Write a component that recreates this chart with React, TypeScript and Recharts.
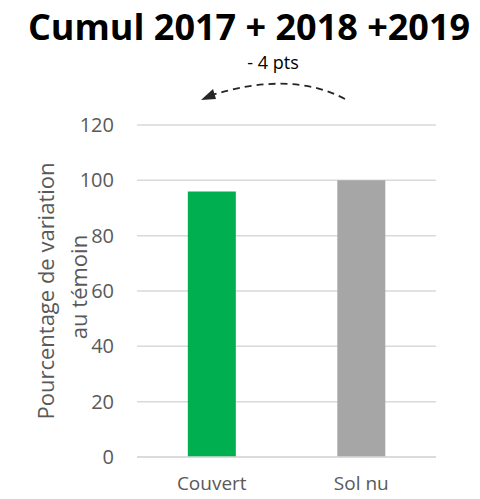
import React from "react";
import { BarChart, Bar, XAxis, YAxis, CartesianGrid, Cell } from "recharts";

const categories = ["Couvert", "Sol nu"];
const values = [96, 100];
const barColors = ["#00b050", "#a6a6a6"];
const yTicks = [0, 20, 40, 60, 80, 100, 120];
const title = "Cumul 2017 + 2018 +2019";
const annotation = "- 4 pts";
const yLabelLines = ["Pourcentage de variation", "au témoin"];

const data = categories.map((c, i) => ({ name: c, value: values[i] }));

const FONT = "'Open Sans', 'Noto Sans', sans-serif";

export default function App() {
  return (
    <div style={{ position: "absolute", left: 0, top: 0, width: 480, height: 499, background: "#fff" }}>
      <BarChart
        width={480}
        height={499}
        data={data}
        margin={{ top: 125, right: 44, bottom: 0, left: 0 }}
        barCategoryGap="34%"
      >
        <CartesianGrid vertical={false} stroke="#d9d9d9" strokeWidth={1.5} />
        <XAxis
          dataKey="name"
          axisLine={{ stroke: "#d9d9d9", strokeWidth: 1.5 }}
          tickLine={false}
          height={42}
          tickMargin={14}
          tick={{ fill: "#595959", fontSize: 19, fontFamily: FONT }}
        />
        <YAxis
          width={137}
          domain={[0, 120]}
          ticks={yTicks}
          axisLine={false}
          tickLine={false}
          tickMargin={17}
          tick={{ fill: "#595959", fontSize: 20, fontFamily: FONT }}
        />
        <Bar dataKey="value" isAnimationActive={false}>
          {data.map((d, i) => (
            <Cell key={d.name} fill={barColors[i]} />
          ))}
        </Bar>
      </BarChart>
      <svg
        width={480}
        height={499}
        style={{ position: "absolute", left: 0, top: 0, pointerEvents: "none" }}
      >
        <text x={249} y={40} textAnchor="middle" fontFamily={FONT} fontWeight={700} fontSize={36} fill="#000">
          {title}
        </text>
        <text x={273} y={69} textAnchor="middle" fontFamily={FONT} fontSize={18} fill="#000">
          {annotation}
        </text>
        <path
          d="M345,99 Q290,70 209,96"
          fill="none"
          stroke="#262626"
          strokeWidth={1.8}
          strokeDasharray="7,5"
        />
        <path d="M201,100 L213,89 L216,99 z" fill="#262626" />
        <g transform="translate(45,291) rotate(-90)">
          <text x={0} y={0} textAnchor="middle" dominantBaseline="central" fontFamily={FONT} fontSize={22} fill="#595959">
            {yLabelLines[0]}
          </text>
        </g>
        <g transform="translate(78,287) rotate(-90)">
          <text x={0} y={0} textAnchor="middle" dominantBaseline="central" fontFamily={FONT} fontSize={22} fill="#595959">
            {yLabelLines[1]}
          </text>
        </g>
      </svg>
    </div>
  );
}
